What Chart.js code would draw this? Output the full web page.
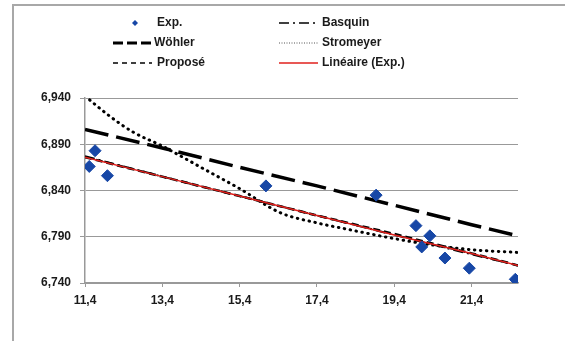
<!DOCTYPE html>
<html>
<head>
<meta charset="utf-8">
<script src="https://cdn.jsdelivr.net/npm/chart.js@4/dist/chart.umd.min.js"></script>
<style>
  body { margin: 0; background: #fff; }
  #wrap { position: relative; width: 565px; height: 341px; overflow: hidden; }
  #frame { position: absolute; left: 12px; top: 4px; width: 700px; height: 500px;
           border-left: 2px solid #a8a8a8; border-top: 2px solid #a8a8a8; }
  canvas { position: absolute; left: 0; top: 0; }
</style>
</head>
<body>
<div id="wrap">
  <div id="frame"></div>
  <canvas id="chart" width="565" height="341"></canvas>
</div>
<script>
// données
const expX = [11.51, 11.66, 11.98, 16.08, 18.93, 19.96, 20.11, 20.32, 20.71, 21.34, 22.53];
const expY = [6.866, 6.883, 6.856, 6.845, 6.835, 6.802, 6.779, 6.791, 6.767, 6.756, 6.744];

const lineX = [11.4, 13.4, 15.4, 17.4, 19.4, 21.4, 22.6];
const wohlerY = [6.906, 6.886, 6.865, 6.845, 6.824, 6.803, 6.791];
const proposeY = [6.876, 6.855, 6.834, 6.813, 6.793, 6.772, 6.759];
const basquinY = [6.877, 6.855, 6.834, 6.813, 6.792, 6.771, 6.759];
const lineaireY = [6.876, 6.855, 6.834, 6.813, 6.792, 6.772, 6.759];

const stromX = [11.4, 12.05, 12.65, 13.4, 14.4, 15.4, 16.45, 17.4, 18.2, 19.4, 20.4, 21.4, 22.6];
const stromY = [6.942, 6.920, 6.903, 6.888, 6.865, 6.842, 6.816, 6.805, 6.798, 6.788, 6.781, 6.776, 6.773];

const xTicks = [11.4, 13.4, 15.4, 17.4, 19.4, 21.4];
const yTicks = [6.74, 6.79, 6.84, 6.89, 6.94];

const pts = (xs, ys) => xs.map((x, i) => ({ x: x, y: ys[i] }));
const fmt = (v, d) => v.toFixed(d).replace(".", ",");

const blue = "#1747a6";
const red = "#e0201c";
const font = "'Liberation Sans', Arial, sans-serif";

// légende sur deux colonnes
const legendPlugin = {
  id: "legend2col",
  afterDraw(chart) {
    const ctx = chart.ctx;
    const items = [
      { label: "Exp.", col: 0, row: 0, type: "point" },
      { label: "Wöhler", col: 0, row: 1, dash: [10, 4], width: 3, color: "#000", tx: 154 },
      { label: "Proposé", col: 0, row: 2, dash: [5, 4], width: 1.5, color: "#000" },
      { label: "Basquin", col: 1, row: 0, dash: [10, 4, 2, 4], width: 1.5, color: "#000" },
      { label: "Stromeyer", col: 1, row: 1, dash: [1, 1.5], width: 1, color: "#555" },
      { label: "Linéaire (Exp.)", col: 1, row: 2, dash: [], width: 1.5, color: red }
    ];
    const colX = [[113, 152, 157], [279, 318, 322]];
    const rowY = [23, 43, 63];
    ctx.save();
    ctx.font = "bold 12px " + font;
    ctx.textBaseline = "middle";
    items.forEach((it) => {
      const c = colX[it.col];
      const y = rowY[it.row];
      if (it.type === "point") {
        ctx.fillStyle = blue;
        ctx.beginPath();
        ctx.moveTo(135, y - 3);
        ctx.lineTo(138, y);
        ctx.lineTo(135, y + 3);
        ctx.lineTo(132, y);
        ctx.closePath();
        ctx.fill();
      } else {
        ctx.strokeStyle = it.color;
        ctx.lineWidth = it.width;
        ctx.setLineDash(it.dash);
        ctx.beginPath();
        ctx.moveTo(c[0], y);
        ctx.lineTo(c[1], y);
        ctx.stroke();
        ctx.setLineDash([]);
      }
      ctx.fillStyle = "#1a1a1a";
      ctx.fillText(it.label, it.tx || c[2], y);
    });
    ctx.restore();
  }
};

new Chart(document.getElementById("chart"), {
  type: "scatter",
  data: {
    datasets: [
      {
        label: "Exp.",
        data: pts(expX, expY),
        pointStyle: "rectRot",
        pointRadius: 6,
        backgroundColor: blue,
        borderColor: blue,
        showLine: false,
        order: 0
      },
      {
        label: "Linéaire (Exp.)",
        data: pts(lineX, lineaireY),
        showLine: true,
        borderColor: red,
        borderWidth: 1.5,
        pointRadius: 0,
        order: 1
      },
      {
        label: "Proposé",
        data: pts(lineX, proposeY),
        showLine: true,
        borderColor: "#000",
        borderWidth: 2.5,
        borderDash: [7, 4],
        pointRadius: 0,
        order: 2
      },
      {
        label: "Basquin",
        data: pts(lineX, basquinY),
        showLine: true,
        borderColor: "#000",
        borderWidth: 2,
        borderDash: [10, 4, 2, 4],
        pointRadius: 0,
        order: 3
      },
      {
        label: "Wöhler",
        data: pts(lineX, wohlerY),
        showLine: true,
        borderColor: "#000",
        borderWidth: 3.5,
        borderDash: [24, 8],
        pointRadius: 0,
        order: 4
      },
      {
        label: "Stromeyer",
        data: pts(stromX, stromY),
        showLine: true,
        borderColor: "#000",
        borderWidth: 3,
        borderDash: [0.5, 5.5],
        borderCapStyle: "round",
        cubicInterpolationMode: "monotone",
        pointRadius: 0,
        order: 5
      }
    ]
  },
  options: {
    responsive: false,
    animation: false,
    layout: { padding: { left: 25, top: 98, right: 47, bottom: 28 } },
    plugins: {
      legend: { display: false },
      tooltip: { enabled: false }
    },
    scales: {
      x: {
        type: "linear",
        min: 11.4,
        max: 22.6,
        afterBuildTicks: (s) => { s.ticks = xTicks.map((v) => ({ value: v })); },
        afterFit: (s) => { s.height = 30; },
        grid: { drawOnChartArea: false, color: "#999", tickLength: 4 },
        border: { color: "#999", width: 1.5 },
        ticks: {
          padding: 6,
          color: "#1a1a1a",
          font: { family: font, size: 12, weight: "bold" },
          callback: (v) => fmt(v, 1)
        }
      },
      y: {
        min: 6.74,
        max: 6.94,
        afterBuildTicks: (s) => { s.ticks = yTicks.map((v) => ({ value: v })); },
        afterFit: (s) => { s.width = 60; },
        grid: { color: "#999", lineWidth: 1, tickLength: 5 },
        border: { color: "#999", width: 1.5 },
        ticks: {
          padding: 9,
          color: "#1a1a1a",
          font: { family: font, size: 12, weight: "bold" },
          callback: (v) => fmt(v, 3)
        }
      }
    }
  },
  plugins: [legendPlugin]
});
</script>
</body>
</html>
